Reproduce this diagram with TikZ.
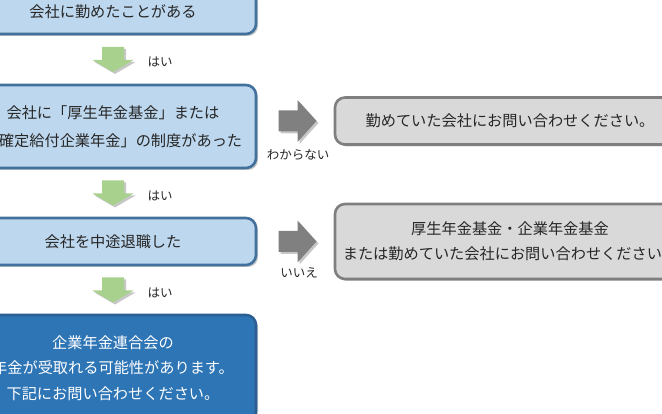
\documentclass[tikz,border=0pt]{standalone}
\usepackage{fontspec}
\setmainfont{Noto Sans CJK JP}
\usetikzlibrary{shadows,calc}
\definecolor{lblue}{HTML}{BDD7EE}
\definecolor{lblueb}{HTML}{41719C}
\definecolor{dblue}{HTML}{2E75B6}
\definecolor{dblueb}{HTML}{2B5F93}
\definecolor{gbox}{HTML}{D9D9D9}
\definecolor{gboxb}{HTML}{7F7F7F}
\definecolor{garrcol}{HTML}{808080}
\definecolor{mygreen}{HTML}{A9D18E}
\definecolor{txt}{HTML}{262626}
\begin{document}
\begin{tikzpicture}[x=1pt,y=-1pt,
  shd/.style={drop shadow={shadow xshift=2pt,shadow yshift=-2pt,opacity=0.22,fill=black}},
  box/.style={draw, line width=2.6pt, rounded corners=10pt, inner sep=0pt, align=center,
    text=txt, font=\fontsize{15.2}{25}\selectfont, shd},
  qbox/.style={box, fill=lblue, draw=lblueb},
  abox/.style={box, fill=gbox, draw=gboxb},
  fbox/.style={box, fill=dblue, draw=dblueb, text=white},
  lbl/.style={text=txt, font=\fontsize{12.5}{14}\selectfont, inner sep=0pt},
  garrow/.pic={\fill[mygreen, shd] (-11,-12.5) -- (11,-12.5) -- (11,0.5) -- (20.5,0.5) -- (0,12.5)
     -- (-20.5,0.5) -- (-11,0.5) -- cycle;},
  grarrow/.pic={\fill[garrcol, shd] (-17,-10.5) -- (2,-10.5) -- (2,-21) -- (21,0) -- (2,21)
     -- (2,10.5) -- (-17,10.5) -- cycle;}
]
\useasboundingbox (0,0) rectangle (662,414);
\clip (0,0) rectangle (662,414);
% question boxes
\node[qbox, minimum width=286pt, minimum height=44pt] (q1) at (113,12) {会社に勤めたことがある};
\node[qbox, minimum width=286pt, minimum height=83pt, font=\fontsize{15.2}{28}\selectfont] (q2) at (113,126.5)
  {会社に「厚生年金基金」または\\「確定給付企業年金」の制度があった};
\node[qbox, minimum width=286pt, minimum height=47pt] (q3) at (113,241.5) {会社を中途退職した};
\node[fbox, minimum width=286pt, minimum height=106pt, font=\fontsize{15.2}{25.5}\selectfont] (q4) at (113,368)
  {企業年金連合会の\\年金が受取れる可能性があります。\\下記にお問い合わせください。};
% answer boxes
\node[abox, minimum width=350pt, minimum height=47pt] (a1) at (510,121) {勤めていた会社にお問い合わせください。};
\node[abox, minimum width=350pt, minimum height=75pt] (a2) at (510,241.5)
  {厚生年金基金・企業年金基金\\または勤めていた会社にお問い合わせください。};
% green arrows
\coordinate (g1) at ($(q1.south)!0.5!(q2.north)$);
\coordinate (g2) at ($(q2.south)!0.5!(q3.north)$);
\coordinate (g3) at ($(q3.south)!0.5!(q4.north)$);
\pic at (g1) {garrow};
\pic at (g2) {garrow};
\pic at (g3) {garrow};
\node[lbl] (y1) at ($(g1)+(47,2.5)$) {はい};
\node[lbl] (y2) at ($(g2)+(47,2.5)$) {はい};
\node[lbl] (y3) at ($(g3)+(47,2.5)$) {はい};
% gray arrows
\coordinate (m1) at ($(q2.east)!0.5!(a1.west)$);
\coordinate (m2) at ($(q3.east)!0.5!(a2.west)$);
\coordinate (r1) at (m1 |- a1);
\coordinate (r2) at (m2 |- q3);
\pic at (r1) {grarrow};
\pic at (r2) {grarrow};
\node[lbl] (n1) at ($(r1)+(2.5,34)$) {わからない};
\node[lbl] (n2) at ($(r2)+(3.5,31)$) {いいえ};
\end{tikzpicture}
\end{document}
